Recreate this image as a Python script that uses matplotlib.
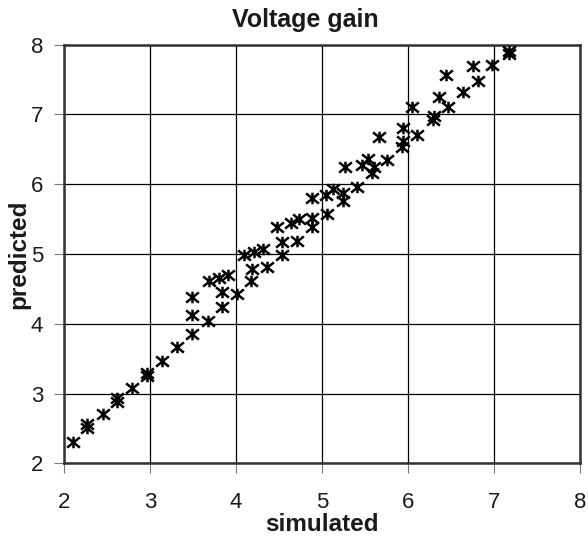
import matplotlib
matplotlib.use('Agg')
import matplotlib.pyplot as plt
from matplotlib.path import Path

plt.rcParams['font.family'] = ['Liberation Sans', 'DejaVu Sans']

# simulated vs predicted voltage gain
simulated = [2.10, 2.27, 2.27, 2.45, 2.62, 2.62, 2.79, 2.97, 2.97, 3.14,
             3.31, 3.49, 3.49, 3.49, 3.67, 3.69, 3.80, 3.91, 3.84, 3.84,
             4.01, 4.09, 4.21, 4.31, 4.19, 4.18, 4.36, 4.54, 4.54, 4.48,
             4.64, 4.73, 4.88, 4.88, 4.71, 4.88, 5.05, 5.13, 5.24, 5.24,
             5.06, 5.41, 5.27, 5.46, 5.54, 5.60, 5.58, 5.76, 5.66, 5.94,
             5.94, 5.93, 6.11, 6.05, 6.30, 6.29, 6.36, 6.46, 6.44, 6.64,
             6.76, 6.81, 6.98, 7.17, 7.17]
predicted = [2.31, 2.57, 2.50, 2.70, 2.94, 2.88, 3.08, 3.30, 3.25, 3.47,
             3.67, 3.85, 4.12, 4.39, 4.04, 4.62, 4.66, 4.70, 4.45, 4.24,
             4.42, 4.99, 5.03, 5.07, 4.79, 4.62, 4.81, 5.17, 4.99, 5.39,
             5.44, 5.50, 5.52, 5.39, 5.19, 5.80, 5.85, 5.93, 5.87, 5.76,
             5.57, 5.96, 6.24, 6.28, 6.36, 6.25, 6.16, 6.35, 6.67, 6.80,
             6.62, 6.54, 6.71, 7.11, 6.98, 6.92, 7.25, 7.10, 7.56, 7.32,
             7.70, 7.48, 7.71, 7.86, 7.91]
ticks = [2, 3, 4, 5, 6, 7, 8]

# excel-like star marker: an X with a vertical bar through it
star = Path([(-1, -0.8), (1, 0.8), (-1, 0.8), (1, -0.8), (0, -0.9), (0, 0.9)],
            [Path.MOVETO, Path.LINETO] * 3)

fig = plt.figure(figsize=(5.88, 5.37), dpi=100)
ax = fig.add_axes([0.1088, 0.1372, 0.8776, 0.7796])

ax.scatter(simulated, predicted, marker=star, s=85, c='black',
           linewidths=1.8, zorder=3, clip_on=False)

ax.set_xlim(2, 8)
ax.set_ylim(2, 8)
ax.set_xticks(ticks)
ax.set_yticks(ticks)
ax.grid(True, color='black', linewidth=0.9)
ax.set_axisbelow(True)
for s in ax.spines.values():
    s.set_color('#333333')
    s.set_linewidth(1.8)
ax.tick_params(direction='out', length=7, width=0.8, color='#777777',
               labelsize=16, labelcolor='#1a1a1a')
ax.tick_params(axis='x', pad=14)
ax.tick_params(axis='y', pad=8)

ax.set_title('Voltage gain', fontsize=18, fontweight='bold', color='#1a1a1a',
             x=0.467, pad=13)
ax.set_xlabel('simulated', fontsize=17.5, fontweight='bold', color='#1a1a1a',
              labelpad=0)
ax.set_ylabel('predicted', fontsize=17.5, fontweight='bold', color='#1a1a1a',
              labelpad=0)

fig.savefig('out.png', dpi=100)
